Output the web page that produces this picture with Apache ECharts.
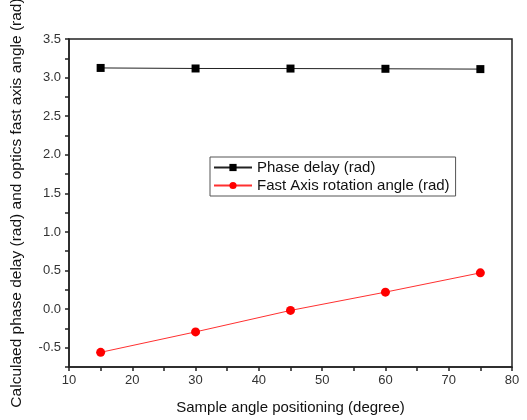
<!DOCTYPE html>
<html>
<head>
<meta charset="utf-8">
<script src="https://cdn.jsdelivr.net/npm/echarts@6/dist/echarts.min.js"></script>
<style>
  html, body { margin: 0; padding: 0; background: #fff; }
  #chart { width: 527px; height: 420px; }
</style>
</head>
<body>
<div id="chart"></div>
<script>
// sample angle (degree)
const angles = [15, 30, 45, 60, 75];
const phaseDelay = [3.125, 3.118, 3.117, 3.114, 3.110];
const fastAxis = [-0.56, -0.295, -0.017, 0.22, 0.47];

const chart = echarts.init(document.getElementById('chart'));
const font = 'Arial, Liberation Sans, sans-serif';
const axisTxt = { color: '#333', fontSize: 13, fontFamily: font };

chart.setOption({
    backgroundColor: '#fff',
    animation: false,
    grid: { left: 69, right: 15, top: 39, bottom: 53, show: true, borderColor: '#222', borderWidth: 1.5,
            backgroundColor: 'transparent', outerBoundsMode: 'none' },
    legend: {
        left: 210, top: 157, orient: 'vertical',
        itemWidth: 38, itemHeight: 9, itemGap: 3,
        padding: [3, 6, 3, 3],
        borderColor: '#555', borderWidth: 1,
        textStyle: { color: '#111', fontSize: 15, fontFamily: font },
        data: ['Phase delay (rad)', 'Fast Axis rotation angle (rad)']
    },
    xAxis: {
        type: 'value', min: 10, max: 80, interval: 5,
        name: 'Sample angle positioning (degree)', nameLocation: 'middle', nameGap: 33,
        nameTextStyle: { color: '#111', fontSize: 15, fontFamily: font },
        axisLine: { onZero: false, lineStyle: { color: '#222', width: 1.5 } },
        axisTick: { length: 4, lineStyle: { color: '#222', width: 1.5 } },
        axisLabel: { ...axisTxt, margin: 7, formatter: v => (v % 10 === 0 ? String(v) : '') },
        splitLine: { show: false }
    },
    yAxis: {
        type: 'value', min: -0.75, max: 3.5, interval: 0.25,
        name: 'Calculaed phase delay (rad) and optics fast axis angle (rad)', nameLocation: 'middle', nameGap: 44,
        nameTextStyle: { color: '#111', fontSize: 15.5, fontFamily: font },
        axisLine: { onZero: false, lineStyle: { color: '#222', width: 1.5 } },
        axisTick: { length: 4, lineStyle: { color: '#222', width: 1.5 } },
        axisLabel: { ...axisTxt, margin: 8, formatter: v => (Math.abs(v * 2 - Math.round(v * 2)) < 1e-6 ? v.toFixed(1) : '') },
        splitLine: { show: false }
    },
    series: [
        {
            name: 'Phase delay (rad)', type: 'line',
            data: angles.map((a, i) => [a, phaseDelay[i]]),
            symbol: 'rect', symbolSize: 8,
            itemStyle: { color: '#000' },
            lineStyle: { color: '#222', width: 1 }
        },
        {
            name: 'Fast Axis rotation angle (rad)', type: 'line',
            data: angles.map((a, i) => [a, fastAxis[i]]),
            symbol: 'circle', symbolSize: 9,
            itemStyle: { color: '#ff0000' },
            lineStyle: { color: '#ff3030', width: 1 }
        }
    ]
});
</script>
</body>
</html>
